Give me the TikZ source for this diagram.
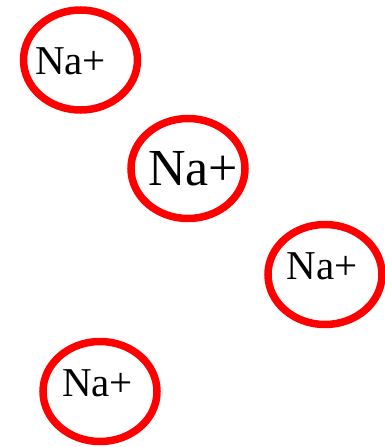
\documentclass[tikz,border=0pt]{standalone}
\usepackage{fontspec}
\setmainfont{Liberation Serif}
\usetikzlibrary{shapes.geometric}

\begin{document}
\begin{tikzpicture}[x=1pt,y=-1pt,
	ion/.style={draw=red,line width=7.5pt,ellipse,minimum width=114pt,minimum height=100pt,inner sep=0pt},
	label/.style={anchor=base,inner sep=0pt,font=\fontsize{41}{48}\selectfont},
	biglabel/.style={label,font=\fontsize{52}{60}\selectfont}]
\useasboundingbox (0,0) rectangle (385,447);
\node[ion] (ion1) at (80.5,60) {};
\node[ion] (ion2) at (188,168.5) {};
\node[ion] (ion3) at (325,274.5) {};
\node[ion] (ion4) at (100,391.5) {};
\node[label] (na1) at (70.5,74) {Na+};
\node[biglabel] (na2) at (193,185) {Na+};
\node[label] (na3) at (322,279) {Na+};
\node[label] (na4) at (97.5,396) {Na+};
\end{tikzpicture}
\end{document}
